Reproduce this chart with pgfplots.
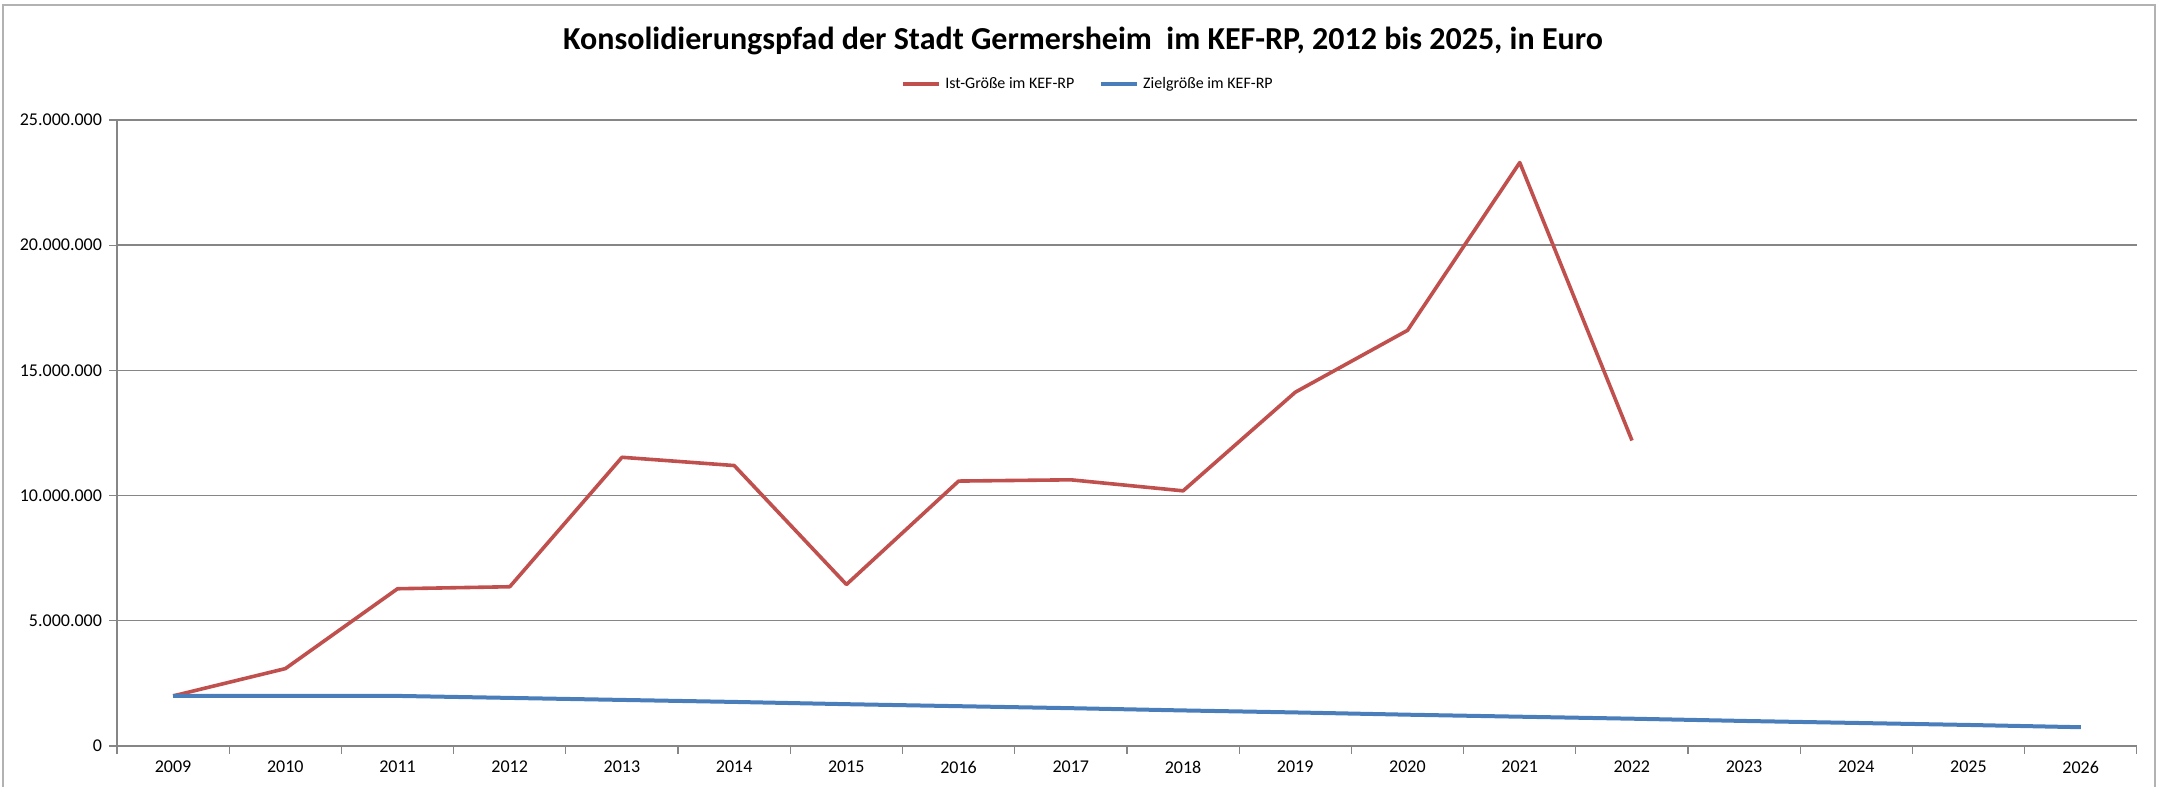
\documentclass[border=0pt]{standalone}
\usepackage{fontspec}
\setmainfont{Carlito}
\usepackage{pgfplots}
\pgfplotsset{compat=1.18}
\definecolor{ist}{RGB}{192,80,77}
\definecolor{ziel}{RGB}{74,126,187}
\definecolor{gridc}{RGB}{134,134,134}
\begin{document}
\begin{tikzpicture}
\useasboundingbox (-58.5pt,-20.5pt) rectangle (1024pt,373pt);
\draw[gray!60, line width=1pt] (-57pt,-40pt) rectangle (1019pt,370.5pt);
\begin{axis}[
  at={(0pt,0pt)}, anchor=south west,
  scale only axis, width=1010pt, height=313pt,
  xmin=2008.5, xmax=2026.5, ymin=0, ymax=25000000,
  axis x line*=bottom, axis y line*=left,
  axis line style={draw=gridc, line width=0.7pt, -},
  xtick={2009,...,2026},
  minor xtick={2008.5,2009.5,...,2026.5},
  ytick={0,5000000,10000000,15000000,20000000,25000000},
  minor ytick={0,5000000,10000000,15000000,20000000,25000000},
  major tick length=0pt, minor tick length=4pt,
  tick align=outside,
  tick style={draw=gridc, line width=0.6pt},
  ymajorgrids,
  grid style={draw=gridc, line width=0.7pt},
  scaled y ticks=false,
  /pgf/number format/assume math mode=true,
  ticklabel style={font=\fontsize{9}{11}\selectfont},
  yticklabel style={xshift=-4pt, /pgf/number format/.cd, fixed, precision=0, 1000 sep={.}},
  xticklabel style={yshift=-4pt, /pgf/number format/.cd, 1000 sep={}},
  legend style={at={(0.481,1.0575)}, anchor=center, draw=none, fill=none,
    font=\fontsize{8}{9}\selectfont, legend columns=2,
    /tikz/every even column/.append style={column sep=10pt}},
  legend image code/.code={\draw[#1, line width=2.4pt] (0pt,0pt) -- (18pt,0pt);},
  clip=false,
]
\addplot[ist, line width=1.8pt, line join=round] coordinates {
(2009,2000000) (2010,3090000) (2011,6280000) (2012,6360000) (2013,11530000)
(2014,11200000) (2015,6450000) (2016,10580000) (2017,10630000) (2018,10190000)
(2019,14130000) (2020,16600000) (2021,23300000) (2022,12200000)
};
\addlegendentry{Ist-Größe im KEF-RP}
\addplot[ziel, line width=2pt, line join=round] coordinates {
(2009,2000000) (2010,2000000) (2011,2000000) (2012,1920000) (2013,1840000)
(2014,1760000) (2015,1670000) (2016,1590000) (2017,1510000) (2018,1420000)
(2019,1340000) (2020,1250000) (2021,1170000) (2022,1090000) (2023,1000000)
(2024,920000) (2025,840000) (2026,750000)
};
\addlegendentry{Zielgröße im KEF-RP}
\end{axis}
\node[font=\bfseries\fontsize{16}{19}\selectfont] at (483pt,352.5pt)
  {Konsolidierungspfad der Stadt Germersheim~~im KEF-RP, 2012 bis 2025, in Euro};
\end{tikzpicture}
\end{document}
